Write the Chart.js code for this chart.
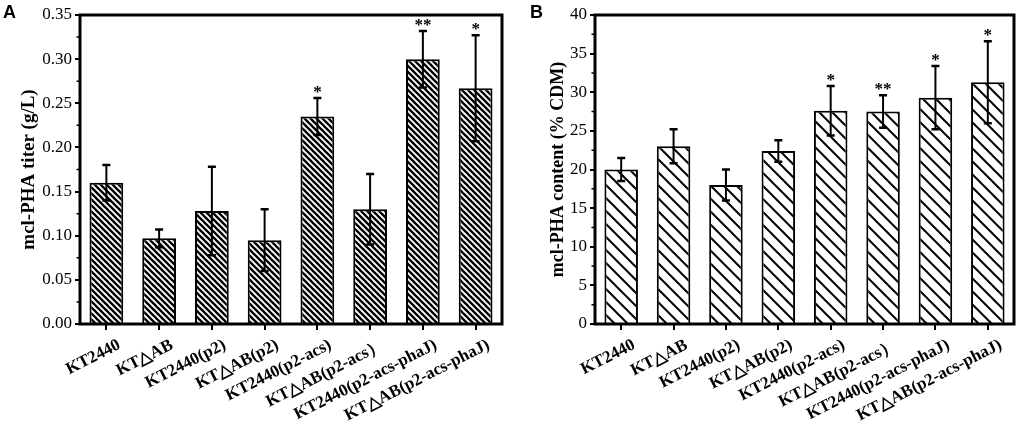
<!DOCTYPE html>
<html>
<head>
<meta charset="utf-8">
<script src="https://cdn.jsdelivr.net/npm/chart.js@4.4.0/dist/chart.umd.min.js"></script>
<style>
  body { margin: 0; background: #fff; }
  .panel { position: absolute; top: 0; width: 512px; height: 428px; }
  .letter { position: absolute; top: 2px; font: bold 18px 'Liberation Sans', Arial, sans-serif; }
</style>
</head>
<body>
<div class="panel" style="left:0"><canvas id="chartA" width="512" height="428"></canvas></div>
<div class="panel" style="left:512px"><canvas id="chartB" width="512" height="428"></canvas></div>
<div class="letter" style="left:3px">A</div>
<div class="letter" style="left:530px">B</div>
<script>
// strains
const categories = ['KT2440', 'KT△AB', 'KT2440(p2)', 'KT△AB(p2)', 'KT2440(p2-acs)',
    'KT△AB(p2-acs）', 'KT2440(p2-acs-phaJ)', 'KT△AB(p2-acs-phaJ)'];

// panel A - titer g/L
const titerValues = [0.160, 0.097, 0.128, 0.095, 0.235, 0.130, 0.300, 0.267];
const titerErrors = [0.020, 0.010, 0.050, 0.035, 0.021, 0.040, 0.032, 0.060];
const titerStars = ['', '', '', '', '*', '', '**', '*'];

// panel B - content % CDM
const contentValues = [20.0, 23.0, 18.0, 22.4, 27.6, 27.5, 29.3, 31.3];
const contentErrors = [1.5, 2.2, 2.0, 1.4, 3.2, 2.1, 4.1, 5.3];
const contentStars = ['', '', '', '', '*', '**', '*', '*'];

const serif = "'Liberation Serif', 'Times New Roman', serif";

function hatch(size, lw) {
    var c = document.createElement('canvas');
    c.width = size; c.height = size;
    var g = c.getContext('2d');
    g.fillStyle = '#fff';
    g.fillRect(0, 0, size, size);
    g.strokeStyle = '#000';
    g.lineWidth = lw;
    g.beginPath();
    [-size, 0, size].forEach(k => {
        g.moveTo(-2, -2 + k);
        g.lineTo(size + 2, size + 2 + k);
    });
    g.stroke();
    return g.createPattern(c, 'repeat');
}

// error bars + stars + frame + minor ticks
const extras = {
    id: 'extras',
    afterDatasetsDraw(chart, args, o) {
        const ctx = chart.ctx;
        const y = chart.scales.y;
        const meta = chart.getDatasetMeta(0);
        const vals = chart.data.datasets[0].data;
        ctx.save();
        ctx.strokeStyle = '#000';
        ctx.fillStyle = '#000';
        ctx.font = 'bold 17px ' + serif;
        ctx.textAlign = 'center';
        ctx.textBaseline = 'alphabetic';
        meta.data.forEach((bar, i) => {
            const top = y.getPixelForValue(vals[i] + o.errors[i]);
            const bot = y.getPixelForValue(vals[i] - o.errors[i]);
            ctx.lineWidth = 2;
            ctx.beginPath();
            ctx.moveTo(bar.x, top);
            ctx.lineTo(bar.x, bot);
            ctx.stroke();
            ctx.lineWidth = 2.5;
            ctx.beginPath();
            ctx.moveTo(bar.x - 4, top);
            ctx.lineTo(bar.x + 4, top);
            ctx.moveTo(bar.x - 4, bot);
            ctx.lineTo(bar.x + 4, bot);
            ctx.stroke();
            if (o.stars[i]) ctx.fillText(o.stars[i], bar.x, top - 1);
        });
        const a = chart.chartArea;
        ctx.lineWidth = 3;
        ctx.strokeRect(a.left, a.top, a.right - a.left, a.bottom - a.top);
        ctx.lineWidth = 1.5;
        ctx.beginPath();
        for (let v = y.min + o.minor; v < y.max; v += o.minor * 2) {
            const p = y.getPixelForValue(v);
            ctx.moveTo(a.left, p);
            ctx.lineTo(a.left - 3.5, p);
        }
        ctx.stroke();
        ctx.restore();
    }
};

function makeChart(id, values, errors, stars, pattern, yOpts) {
    return new Chart(document.getElementById(id), {
        type: 'bar',
        data: {
            labels: categories,
            datasets: [{
                data: values,
                backgroundColor: pattern,
                borderColor: '#000',
                borderWidth: 2,
                barPercentage: 0.64,
                categoryPercentage: 1
            }]
        },
        options: {
            responsive: false,
            animation: false,
            layout: { padding: { left: yOpts.padLeft, right: 10, top: 15, bottom: 0 } },
            plugins: {
                legend: { display: false },
                tooltip: { enabled: false },
                extras: { errors: errors, stars: stars, minor: yOpts.step / 2 }
            },
            scales: {
                x: {
                    border: { display: false },
                    grid: { offset: false, drawOnChartArea: false, tickLength: 6, color: '#000', lineWidth: 2 },
                    ticks: {
                        color: '#000', font: { family: serif, size: 17, weight: 'bold' },
                        minRotation: 27, maxRotation: 27, padding: 5, labelOffset: 13, autoSkip: false
                    },
                    afterFit(s) { s.height = 104; }
                },
                y: {
                    min: 0, max: yOpts.max,
                    border: { display: false },
                    grid: { drawOnChartArea: false, tickLength: 5, color: '#000', lineWidth: 2 },
                    ticks: {
                        stepSize: yOpts.step, color: '#000', padding: 3,
                        font: { family: serif, size: 17 },
                        callback: v => v.toFixed(yOpts.digits)
                    },
                    title: {
                        display: true, text: yOpts.title, color: '#000', padding: 0,
                        font: { family: serif, size: yOpts.titleSize, weight: 'bold' }
                    },
                    afterFit(s) { s.width = yOpts.width; }
                }
            }
        },
        plugins: [extras]
    });
}

makeChart('chartA', titerValues, titerErrors, titerStars, hatch(6, 2.3),
    { max: 0.35, step: 0.05, digits: 2, title: 'mcl-PHA titer (g/L)', titleSize: 19, padLeft: 18, width: 62 });
makeChart('chartB', contentValues, contentErrors, contentStars, hatch(13, 2),
    { max: 40, step: 5, digits: 0, title: 'mcl-PHA content (% CDM)', titleSize: 18, padLeft: 36, width: 47 });
</script>
</body>
</html>
